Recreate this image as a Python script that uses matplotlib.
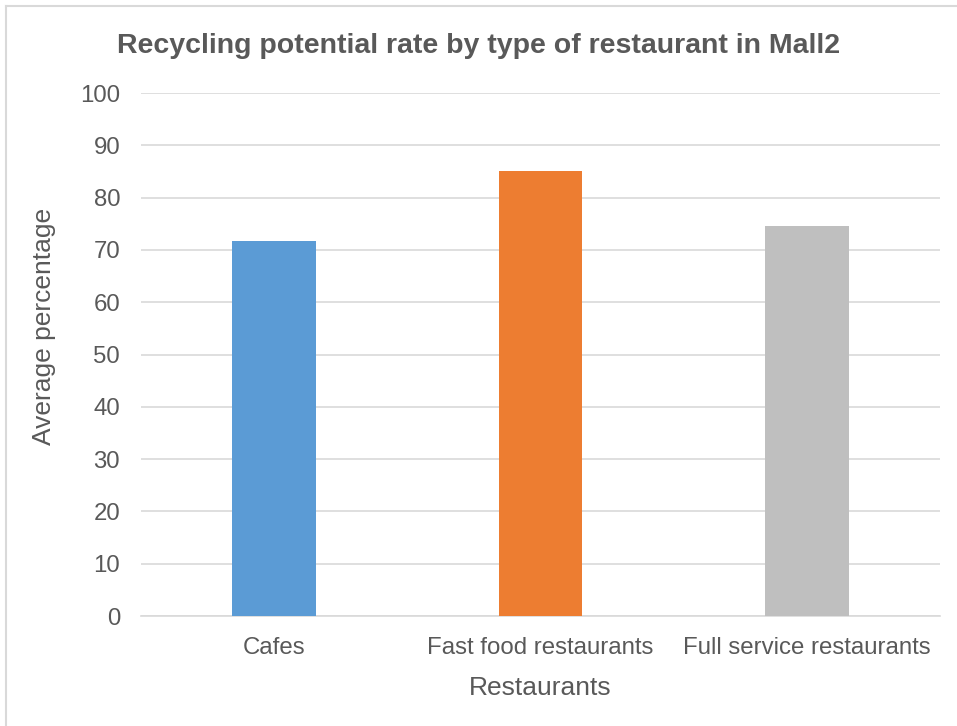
import numpy as np
import matplotlib.pyplot as plt
from matplotlib.lines import Line2D

categories = ['Cafes', 'Fast food restaurants', 'Full service restaurants']
values = [71.7, 85.0, 74.6]
bar_colors = ['#5b9bd5', '#ed7d31', '#bfbfbf']
y_ticks = list(range(0, 101, 10))

plt.rcParams['font.family'] = ['Liberation Sans', 'DejaVu Sans']
text_color = '#595959'

fig = plt.figure(figsize=(9.57, 7.26), dpi=100)
ax = fig.add_axes([0.1473, 0.1515, 0.8349, 0.7204])

x = np.arange(len(categories))
ax.bar(x, values, width=0.315, color=bar_colors, zorder=3)

ax.set_xlim(-0.5, len(categories) - 0.5)
ax.set_ylim(0, 100)
ax.set_yticks(y_ticks)
ax.set_xticks(x)
ax.set_xticklabels(categories)
ax.yaxis.grid(True, color='#d9d9d9', linewidth=1.2, zorder=0)
ax.tick_params(axis='both', length=0, labelsize=17.3, colors=text_color)
ax.tick_params(axis='y', pad=15)
ax.tick_params(axis='x', pad=15)

for side in ['top', 'right', 'left']:
    ax.spines[side].set_visible(False)
ax.spines['bottom'].set_color('#d9d9d9')
ax.spines['bottom'].set_linewidth(1.2)

ax.set_xlabel('Restaurants', fontsize=19, color=text_color, labelpad=12)
ax.set_ylabel('Average percentage', fontsize=19, color=text_color)
ax.yaxis.set_label_coords(-0.106, 0.553)
fig.text(0.5, 0.936, 'Recycling potential rate by type of restaurant in Mall2',
         ha='center', va='center', fontsize=20.5, fontweight='bold',
         color=text_color)

# thin chart-area frame along the left and top edges
fig.add_artist(Line2D([0.006, 0.006], [0, 0.992], transform=fig.transFigure,
                      color='#d9d9d9', linewidth=1.5))
fig.add_artist(Line2D([0.006, 1.0], [0.992, 0.992], transform=fig.transFigure,
                      color='#d9d9d9', linewidth=1.5))

fig.savefig('out.png', dpi=100)
